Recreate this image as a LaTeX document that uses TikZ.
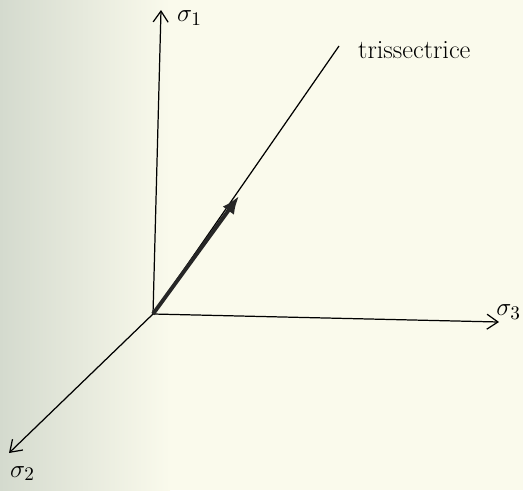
\documentclass[tikz,border=0pt]{standalone}
\usepackage{amsmath}
\usepackage{tikz}
\usetikzlibrary{arrows.meta, positioning}
\definecolor{paper}{RGB}{250,250,236}
\definecolor{papershade}{RGB}{212,218,206}

\begin{document}
\begin{tikzpicture}[
      x=0.02cm, y=-0.02cm,
      every node/.style={font=\fontsize{15}{18}\selectfont},
      axis/.style={-{Straight Barb[length=2.2mm,width=3mm]}, line width=0.7pt},
      vect/.style={-{Latex[length=3.6mm,width=2.8mm]}, line width=2.2pt, black!85},
      plain/.style={line width=0.7pt}
    ]
      % paper
      \fill[paper] (0,0) rectangle (523,490);
      \shade[left color=papershade, right color=paper] (0,0) rectangle (170,490);
      \useasboundingbox (0,0) rectangle (523,490);

      \coordinate (O) at (153,314);
      \coordinate (s1) at (161,10);
      \coordinate (s2) at (9,453);
      \coordinate (s3) at (499,322);
      \coordinate (tri) at (339,46);
      \coordinate (v) at (239,196);

      \node[anchor=west] (l1) at (171,18) {$\sigma_1$};
      \node[anchor=east, inner sep=1pt] (l3) at (523,312) {$\sigma_3$};
      \node[anchor=north west] (l2) at (4,460) {$\sigma_2$};
      \node[anchor=west] (ltri) at (352,50) {trissectrice};

      \draw[axis] (O) -- (s1);
      \draw[axis] (O) -- (s2);
      \draw[axis] (O) -- (s3);
      \draw[plain] (O) -- (tri);
      \draw[vect] (O) -- (v);
    \end{tikzpicture}
\end{document}
